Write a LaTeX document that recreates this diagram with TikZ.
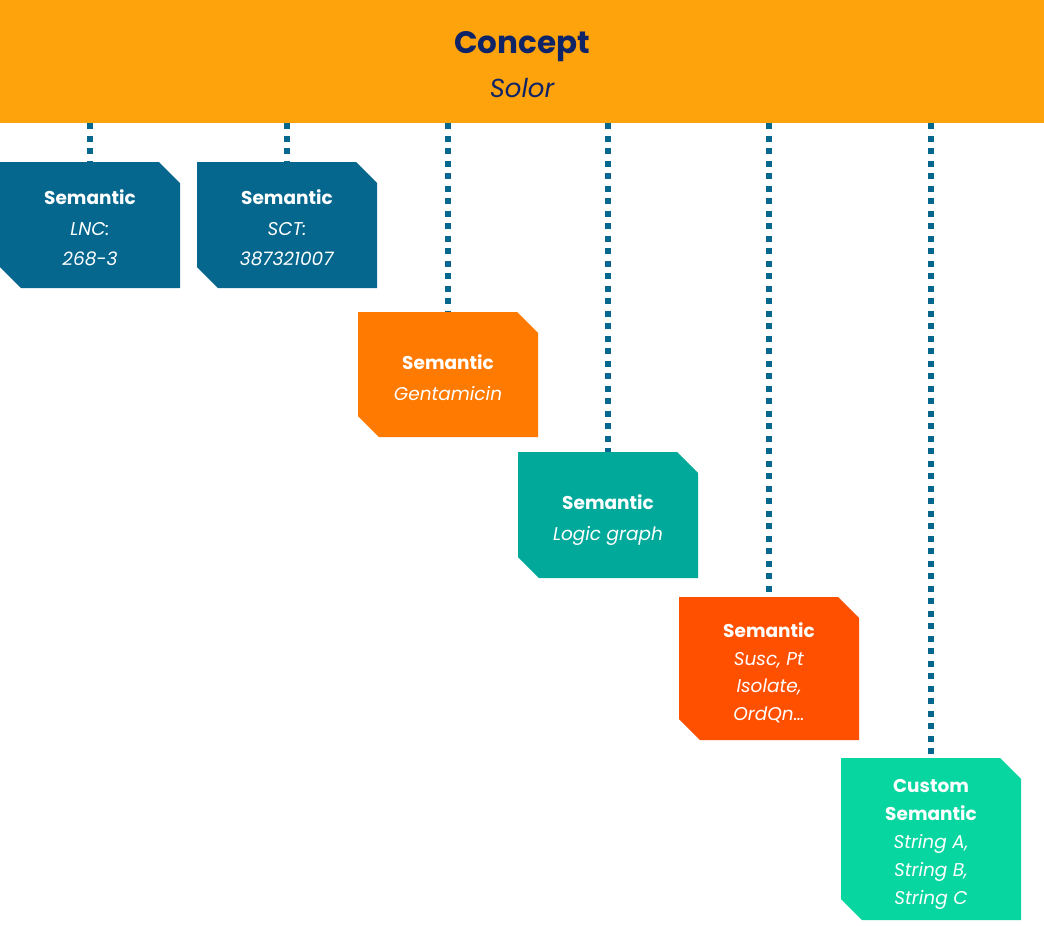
\documentclass[tikz,border=0pt]{standalone}
\usepackage{fontspec}
\setmainfont{Poppins}
\definecolor{banner}{HTML}{FFA30D}
\definecolor{navy}{HTML}{0E2466}
\definecolor{petrol}{HTML}{05678E}
\definecolor{orangeA}{HTML}{FF7A00}
\definecolor{teal}{HTML}{00A99A}
\definecolor{redorange}{HTML}{FF5000}
\definecolor{mint}{HTML}{07D6A0}
\newcommand\chambox[8]{%
  \fill[#6] (#2,#3) -- ({#4-21},#3) -- (#4,{#3+21}) -- (#4,#5) -- ({#2+21},#5) -- (#2,{#5-21}) -- cycle;
  \node[boxtext, minimum width={(#4-#2)*1pt}, minimum height={(#5-#3+6)*1pt}, font={\fontsize{18.5}{#8}\selectfont}] (#1) at ({(#2+#4)/2},{(#3+#5)/2+3}) {#7};
}
\begin{document}
\begin{tikzpicture}[x=1pt,y=-1pt,
  boxtext/.style={inner sep=0pt, align=center, text=white, text depth=0pt},
  dotline/.style={draw=petrol, line width=5.5pt, dash pattern=on 6pt off 6.5pt}]
\useasboundingbox (0,0) rectangle (1044,926);
\node[fill=banner, minimum width=1044pt, minimum height=123pt, inner sep=0pt, anchor=north west] (concept) at (0,0) {};
\node[text=navy, font={\fontsize{31}{36}\selectfont\bfseries}] (ctitle) at (522,47) {Concept};
\node[text=navy, font={\fontsize{26}{28}\selectfont\itshape}] (csub) at (522,88) {Solor};
\chambox{s1}{0}{162}{180}{288}{petrol}{\textbf{Semantic}\\\textit{LNC:}\\\textit{268-3}}{30.5}
\chambox{s2}{197}{162}{377}{288}{petrol}{\textbf{Semantic}\\\textit{SCT:}\\\textit{387321007}}{30.5}
\chambox{s3}{358}{312}{538}{437}{orangeA}{\textbf{Semantic}\\\textit{Gentamicin}}{31}
\chambox{s4}{518}{452}{698}{578}{teal}{\textbf{Semantic}\\\textit{Logic graph}}{31}
\chambox{s5}{679}{597}{859}{740}{redorange}{\textbf{Semantic}\\\textit{Susc, Pt}\\\textit{Isolate,}\\\textit{OrdQn…}}{27.5}
\chambox{s6}{841}{758}{1021}{920}{mint}{\textbf{Custom}\\\textbf{Semantic}\\\textit{String A,}\\\textit{String B,}\\\textit{String C}}{28.2}
\foreach \n in {s1,s2,s3,s4,s5,s6}
  \draw[dotline] (concept.south -| \n.north) -- (\n.north);
\end{tikzpicture}
\end{document}
